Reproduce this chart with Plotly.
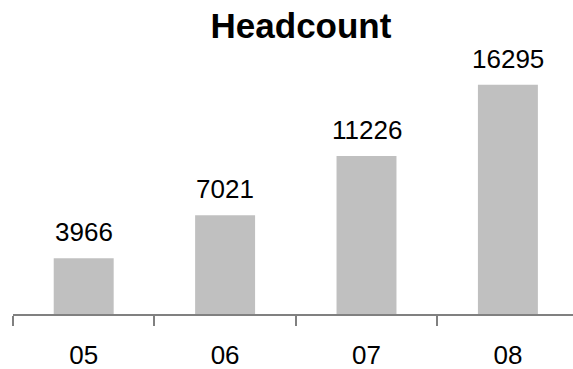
import plotly.graph_objects as go

categories = ["05", "06", "07", "08"]
headcount = [3966, 7021, 11226, 16295]
title_text = "Headcount"

FONT = "Liberation Sans, Arial, sans-serif"

fig = go.Figure()
fig.add_trace(go.Bar(
    x=categories,
    y=headcount,
    marker=dict(color="#C0C0C0", line=dict(width=0)),
    hoverinfo="skip",
))

for i, v in enumerate(headcount):
    fig.add_annotation(
        x=i, y=v, xref="x", yref="y", text=str(v), showarrow=False,
        yanchor="bottom", yshift=9,
        font=dict(family=FONT, size=26, color="#000000"),
    )

fig.update_layout(
    width=573, height=369,
    margin=dict(l=13, r=0, t=60, b=55),
    paper_bgcolor="white", plot_bgcolor="white",
    showlegend=False,
    bargap=0.576,
    title=dict(
        text="<b>" + title_text + "</b>",
        x=301 / 573, xanchor="center", xref="container",
        y=1 - 26 / 369, yanchor="middle", yref="container",
        font=dict(family=FONT, size=35, color="#000000"),
    ),
)
fig.update_xaxes(
    type="category",
    range=[-0.5, -0.5 + 560 / 141.4],
    showline=True, linecolor="#808080", linewidth=2,
    ticks="outside", tickson="boundaries", ticklen=10, tickwidth=2, tickcolor="#808080",
    tickfont=dict(family=FONT, size=26, color="#000000"),
    showgrid=False, zeroline=False,
    ticklabelstandoff=17,
)
fig.update_yaxes(
    range=[0, 254 * 71.1],
    visible=False, showgrid=False, zeroline=False,
)

fig.write_html("out.html")
